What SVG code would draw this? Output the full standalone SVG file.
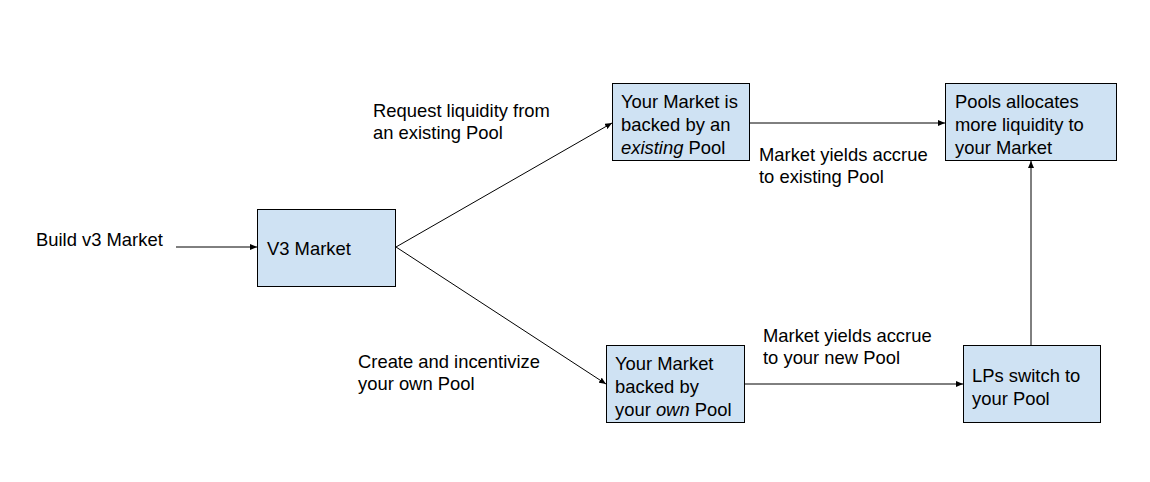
<svg xmlns="http://www.w3.org/2000/svg" width="1150" height="482" viewBox="0 0 1150 482">
<defs>
<style>
.box{fill:#cfe2f3;stroke:#000;stroke-width:1}
text{font-family:"Liberation Sans",Arial,sans-serif;font-size:18.4px;fill:#000}
.edge{stroke:#000;stroke-width:1;fill:none;marker-end:url(#ah)}
</style>
<marker id="ah" markerWidth="8" markerHeight="6" refX="7" refY="3" orient="auto" markerUnits="userSpaceOnUse">
<path d="M0,0 L7,3 L0,6 Z" fill="#000"/>
</marker>
</defs>
<rect width="1150" height="482" fill="#fff"/>
<g id="connectors">
<line class="edge" x1="176" y1="247" x2="257" y2="247"/>
<line class="edge" x1="396" y1="247" x2="612" y2="123"/>
<line class="edge" x1="396" y1="247" x2="606" y2="384"/>
<line class="edge" x1="750" y1="123" x2="945" y2="123"/>
<line class="edge" x1="744" y1="384" x2="963" y2="384"/>
<line class="edge" x1="1031" y1="345" x2="1031" y2="161"/>
</g>
<g id="labels">
<text x="36" y="246">Build v3 Market</text>
<text x="373" y="117">Request liquidity from</text>
<text x="373" y="139">an existing Pool</text>
<text x="759" y="161">Market yields accrue</text>
<text x="759" y="183">to existing Pool</text>
<text x="763" y="342">Market yields accrue</text>
<text x="763" y="364">to your new Pool</text>
<text x="358" y="368">Create and incentivize</text>
<text x="358" y="390">your own Pool</text>
</g>
<g id="v3market">
<rect class="box" x="257.5" y="209.5" width="138" height="77"/>
<text x="267" y="255">V3 Market</text>
</g>
<g id="existing">
<rect class="box" x="612.5" y="83.5" width="137" height="77"/>
<text x="621" y="108">Your Market is</text>
<text x="621" y="131">backed by an</text>
<text x="621" y="154"><tspan font-style="italic">existing</tspan> Pool</text>
</g>
<g id="allocates">
<rect class="box" x="945.5" y="83.5" width="171" height="77"/>
<text x="955" y="108">Pools allocates</text>
<text x="955" y="131">more liquidity to</text>
<text x="955" y="154">your Market</text>
</g>
<g id="ownpool">
<rect class="box" x="606.5" y="345.5" width="138" height="77"/>
<text x="615" y="370">Your Market</text>
<text x="615" y="393">backed by</text>
<text x="615" y="416">your <tspan font-style="italic">own</tspan> Pool</text>
</g>
<g id="lps">
<rect class="box" x="963.5" y="345.5" width="137" height="77"/>
<text x="972" y="382">LPs switch to</text>
<text x="972" y="405">your Pool</text>
</g>
</svg>
